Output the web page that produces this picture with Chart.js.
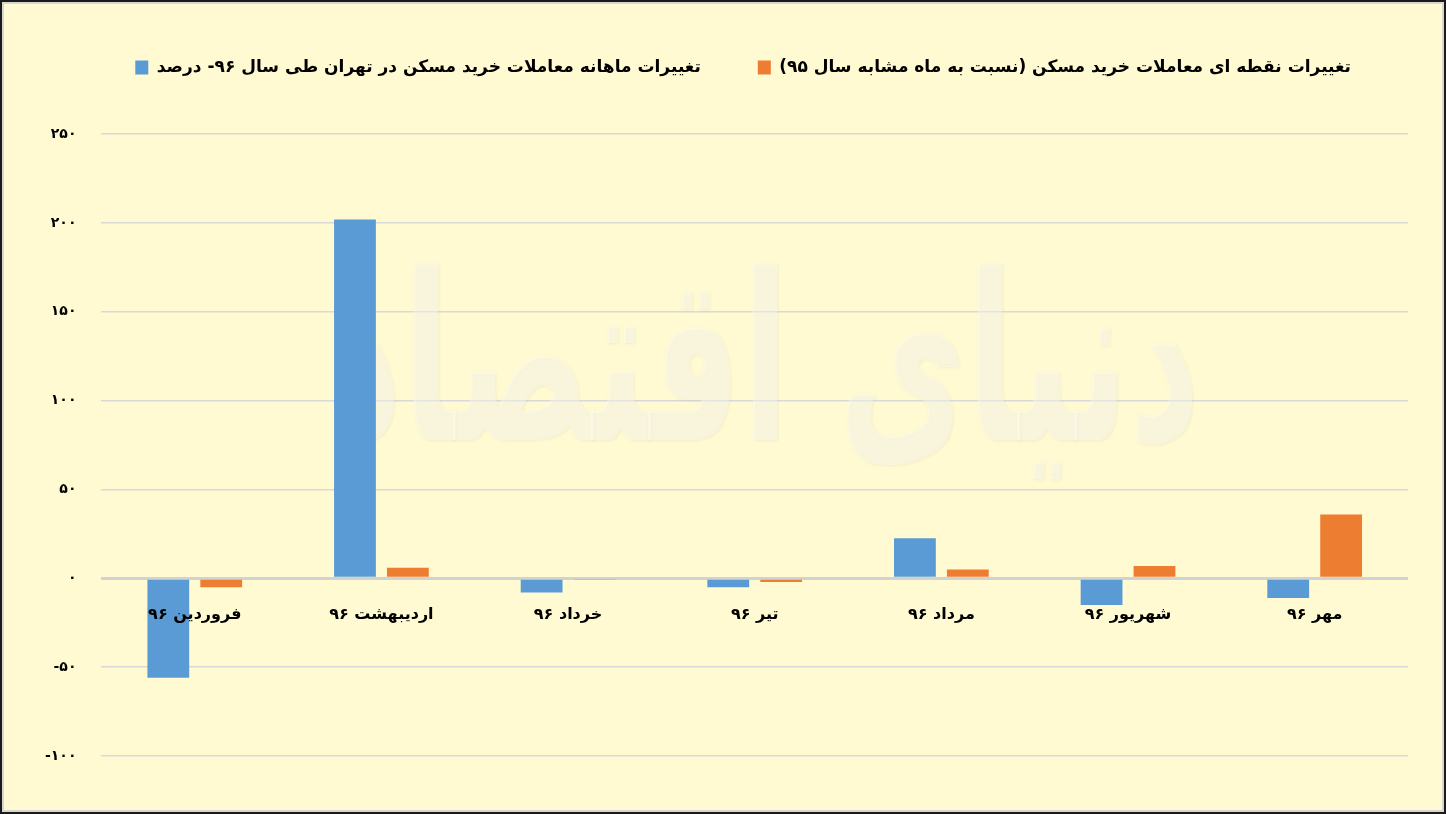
<!DOCTYPE html>
<html lang="fa">
<head>
    <meta charset="UTF-8">
    <title>تغییرات معاملات خرید مسکن در تهران</title>
    <script src="https://cdn.jsdelivr.net/npm/chart.js"></script>
    <style>
        body {
            margin: 0;
            width: 1446px;
            height: 814px;
            overflow: hidden;
            background-color: #FFFAD2;
        }

        .wrap {
            position: absolute;
            left: 0;
            top: 0;
            width: 1446px;
            height: 814px;
        }

        .frame {
            position: absolute;
            left: 0;
            top: 0;
            width: 1446px;
            height: 814px;
            box-sizing: border-box;
            border: 2px solid #1a1a1a;
            box-shadow: inset 0 0 0 2px #d6d6d2;
            pointer-events: none;
        }
    </style>
</head>
<body>
    <div class="wrap">
        <canvas id="myChart" width="1446" height="814"></canvas>
    </div>
    <div class="frame"></div>

    <script>
        // categories (months of 1396)
        const months = ['فروردین ۹۶', 'اردیبهشت ۹۶', 'خرداد ۹۶', 'تیر ۹۶', 'مرداد ۹۶', 'شهریور ۹۶', 'مهر ۹۶'];

        // series (percent)
        const monthlyChange = [-56, 202, -8, -5, 22.5, -15, -11];
        const yearlyChange = [-5, 6, -1, -2, 5, 7, 36];

        const seriesNames = [
            'تغییرات ماهانه معاملات خرید مسکن در تهران طی سال ۹۶- درصد',
            'تغییرات نقطه ای معاملات خرید مسکن (نسبت به ماه مشابه سال ۹۵)'
        ];

        // y axis ticks
        const yMin = -100;
        const yMax = 250;
        const yStep = 50;

        const faDigits = '۰۱۲۳۴۵۶۷۸۹';
        function toFa(v) {
            const s = String(Math.abs(v)).replace(/\d/g, d => faDigits[d]);
            // keep the minus sign on the left whatever the canvas direction is
            return v < 0 ? '\u202A-' + s + '\u202C' : s;
        }

        // faint watermark behind the bars
        const watermark = {
            id: 'watermark',
            beforeDatasetsDraw(chart) {
                const ctx = chart.ctx;
                ctx.save();
                ctx.font = 'bold 150px "DejaVu Sans"';
                const txt = 'دنیای اقتصاد';
                const w = ctx.measureText(txt).width;
                ctx.translate(765, 380);
                ctx.scale(870 / w, 1.55);
                ctx.textAlign = 'center';
                ctx.textBaseline = 'middle';
                ctx.shadowColor = 'rgba(160,155,130,0.3)';
                ctx.shadowBlur = 3;
                ctx.shadowOffsetX = 1;
                ctx.shadowOffsetY = 1;
                ctx.fillStyle = 'rgba(255,255,248,0.42)';
                ctx.fillText(txt, 0, 0);
                ctx.restore();
            }
        };

        const ctx = document.getElementById('myChart').getContext('2d');

        const chart = new Chart(ctx, {
            type: 'bar',
            data: {
                labels: months,
                datasets: [{
                    label: seriesNames[0],
                    data: monthlyChange,
                    backgroundColor: '#5B9BD5',
                    categoryPercentage: 0.567,
                    barPercentage: 0.79
                }, {
                    label: seriesNames[1],
                    data: yearlyChange,
                    backgroundColor: '#ED7D31',
                    categoryPercentage: 0.567,
                    barPercentage: 0.79
                }]
            },
            options: {
                responsive: false,
                animation: false,
                layout: {
                    padding: { left: 20, right: 38, top: 2, bottom: 58 }
                },
                plugins: {
                    legend: {
                        position: 'top',
                        align: 'end',
                        textDirection: 'rtl',
                        labels: {
                            boxWidth: 13,
                            boxHeight: 14,
                            padding: 57,
                            color: '#000',
                            font: { family: '"DejaVu Sans"', size: 17, weight: 'bold' }
                        }
                    },
                    title: {
                        display: true,
                        text: '',
                        weight: 500,
                        font: { size: 1 },
                        padding: { top: 0, bottom: 47 }
                    },
                    tooltip: { enabled: false }
                },
                scales: {
                    x: {
                        position: { y: 0 },
                        grid: { display: false, drawTicks: false },
                        border: { display: false },
                        ticks: {
                            z: 1,
                            padding: 27,
                            color: '#000',
                            font: { family: '"DejaVu Sans"', size: 16, weight: 'bold' }
                        }
                    },
                    y: {
                        min: yMin,
                        max: yMax,
                        grid: {
                            drawTicks: false,
                            color: c => c.tick && c.tick.value === 0 ? '#d2d2d2' : '#d9d9d9',
                            lineWidth: c => c.tick && c.tick.value === 0 ? 3 : 1.5
                        },
                        border: { display: false },
                        ticks: {
                            stepSize: yStep,
                            padding: 25,
                            color: '#000',
                            font: { family: '"DejaVu Sans"', size: 14, weight: 'bold' },
                            callback: v => toFa(v)
                        }
                    }
                }
            },
            plugins: [watermark]
        });
    </script>
</body>
</html>
